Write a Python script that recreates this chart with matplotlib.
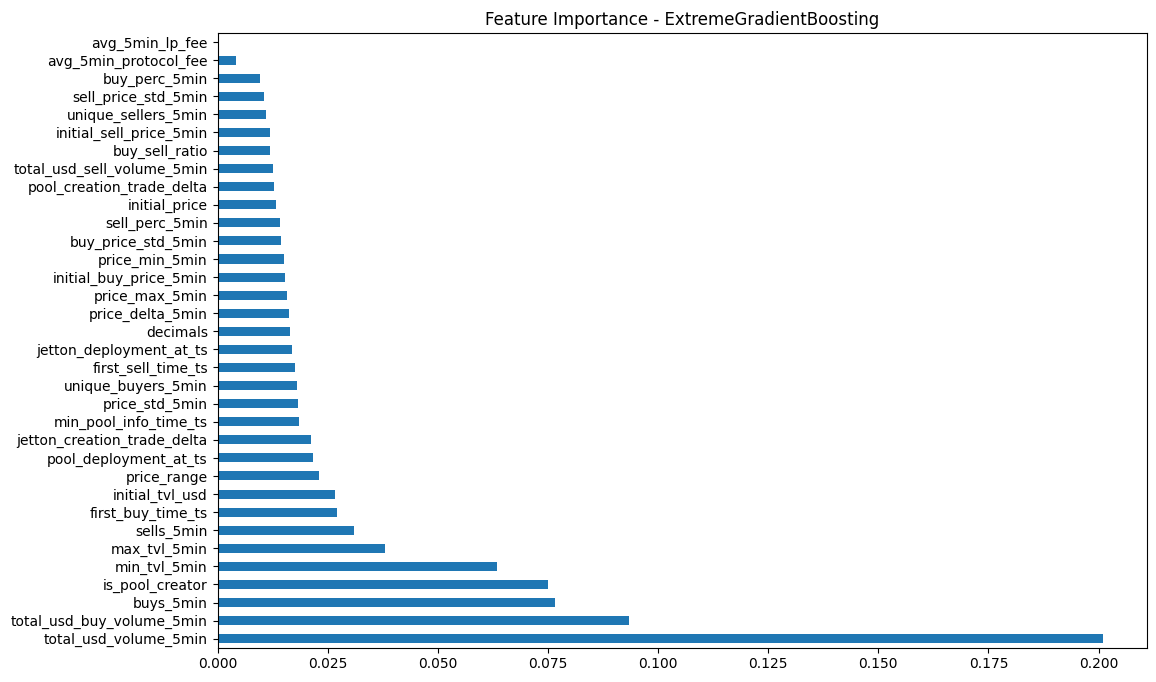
import matplotlib
matplotlib.use("Agg")
import matplotlib.pyplot as plt

features = [
    "total_usd_volume_5min", "total_usd_buy_volume_5min", "buys_5min",
    "is_pool_creator", "min_tvl_5min", "max_tvl_5min", "sells_5min",
    "first_buy_time_ts", "initial_tvl_usd", "price_range",
    "pool_deployment_at_ts", "jetton_creation_trade_delta",
    "min_pool_info_time_ts", "price_std_5min", "unique_buyers_5min",
    "first_sell_time_ts", "jetton_deployment_at_ts", "decimals",
    "price_delta_5min", "price_max_5min", "initial_buy_price_5min",
    "price_min_5min", "buy_price_std_5min", "sell_perc_5min",
    "initial_price", "pool_creation_trade_delta",
    "total_usd_sell_volume_5min", "buy_sell_ratio",
    "initial_sell_price_5min", "unique_sellers_5min",
    "sell_price_std_5min", "buy_perc_5min", "avg_5min_protocol_fee",
    "avg_5min_lp_fee",
]
importance = [
    0.2010, 0.0933, 0.0767, 0.0751, 0.0635, 0.0380, 0.0310,
    0.0271, 0.0267, 0.0230, 0.0217, 0.0212, 0.0185, 0.0183,
    0.0180, 0.0176, 0.0169, 0.0164, 0.0162, 0.0157, 0.0153,
    0.0151, 0.0144, 0.0142, 0.0133, 0.0128, 0.0126, 0.0119,
    0.0119, 0.0110, 0.0105, 0.0096, 0.0041, 0.0,
]

fig = plt.figure(figsize=(11.56, 6.82), dpi=100)
ax = fig.add_axes([217.5 / 1156, 1 - 647.7 / 682, (1147.3 - 217.5) / 1156, (647.7 - 33) / 682])

pos = range(len(features))
ax.barh(pos, importance, height=0.5, color="#1f77b4")
ax.set_yticks(list(pos))
ax.set_yticklabels(features)
ax.set_ylim(-0.5, len(features) - 0.5)
ax.set_xlim(0, max(importance) * 1.05)
ax.set_xticks([0.0, 0.025, 0.05, 0.075, 0.1, 0.125, 0.15, 0.175, 0.2])
ax.set_xticklabels(["0.000", "0.025", "0.050", "0.075", "0.100", "0.125", "0.150", "0.175", "0.200"])
ax.set_title("Feature Importance - ExtremeGradientBoosting")

fig.savefig("out.png", dpi=100)
